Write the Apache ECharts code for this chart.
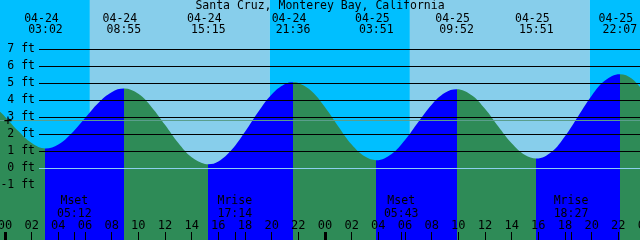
<!DOCTYPE html>
<html><head><meta charset="utf-8">
<script src="https://cdn.jsdelivr.net/npm/echarts@6/dist/echarts.min.js"></script>
<style>html,body{margin:0;padding:0;background:#fff}#c{width:640px;height:240px}</style>
</head><body><div id="c"></div>
<script>
// ---------- data ----------
const chartTitle = 'Santa Cruz, Monterey Bay, California';
const tideTimes = ['04-24 03:02','04-24 08:55','04-24 15:15','04-24 21:36','04-25 03:51','04-25 09:52','04-25 15:51','04-25 22:07'];
const tideHeights = [1.18, 4.70, 0.25, 5.08, 0.49, 4.66, 0.59, 5.55];
const curveHours = [-0.5,0,1,2,4,5,6,7,8,10,11,12,13,14,15,16,17,18,19,20,21,22,23,24,25,26,27,29,30,31,32,33,35,36,37,38,39,41,42,43,44,45,47,48];
const curveHeights = [3.42,3.05,2.2,1.5,1.41,2.07,2.97,3.86,4.49,4.39,3.61,2.57,1.50,0.66,0.27,0.41,1.10,2.16,3.34,4.36,4.97,5.03,4.54,3.60,2.47,1.41,0.70,0.86,1.67,2.73,3.75,4.45,4.31,3.51,2.47,1.48,0.79,0.99,1.90,3.09,4.28,5.17,5.29,4.41];
const moonNames = ['Mset','Mrise','Mset','Mrise'];
const moonTimes = ['04-24 05:12','04-24 17:14','04-25 05:43','04-25 18:27'];
const sunriseTimes = ['04-24 06:22','04-25 06:22'];
const sunsetTimes = ['04-24 19:52','04-25 19:52'];
const levelLabels = [-1,0,1,2,3,4,5,6,7];
const gridLevels = [1,2,3,4,5,6,7];
const datumLevel = [0];
const meanLevel = [2.82];
const midnights = [0, 24, 48];

// ---------- helpers ----------
function toHours(s){
  const [md, hm] = s.split(' ');
  const day = parseInt(md.split('-')[1], 10) - 24;
  const [H, M] = hm.split(':').map(Number);
  return day * 24 + H + M / 60;
}
const tideH = tideTimes.map(toHours);
const moonH = moonTimes.map(toHours);
const sunriseH = sunriseTimes.map(toHours);
const sunsetH = sunsetTimes.map(toHours);

const pts = [];
curveHours.forEach((h, i) => pts.push([h, curveHeights[i]]));
tideH.forEach((h, i) => pts.push([h, tideHeights[i]]));
pts.sort((a, b) => a[0] - b[0]);

const X0 = -2, X1 = 48;
const gridStart = 2.55; // hour where the level lines start (right of labels)
const FONT = 'DejaVu Sans Mono';
const NIGHT = '#00BFFF', DAY = '#87CEEB', RISE = '#0000FF', FALL = '#2E8B57';

// day / night background
const sky = [];
let prev = X0;
for (let i = 0; i < sunriseH.length; i++) {
  sky.push([{xAxis: prev, itemStyle: {color: NIGHT, opacity: 1}}, {xAxis: sunriseH[i]}]);
  sky.push([{xAxis: sunriseH[i], itemStyle: {color: DAY, opacity: 1}}, {xAxis: sunsetH[i]}]);
  prev = sunsetH[i];
}
sky.push([{xAxis: prev, itemStyle: {color: NIGHT, opacity: 1}}, {xAxis: X1}]);

// rising / falling pieces
const pieces = [];
let lo = -Infinity;
tideH.forEach((h, i) => {
  const isLow = (i + 1 < tideHeights.length) ? tideHeights[i] < tideHeights[i + 1] : tideHeights[i] < tideHeights[i - 1];
  pieces.push({gte: lo, lt: h, color: isLow ? FALL : RISE});
  lo = h;
});
pieces.push({gte: lo, lt: Infinity, color: tideHeights[tideHeights.length - 1] > tideHeights[tideHeights.length - 2] ? FALL : RISE});

const pad = n => String(n).padStart(2, '0');
function findIdx(arr, v){ for (let i = 0; i < arr.length; i++) if (Math.abs(arr[i] - v) < 1e-6) return i; return -1; }

const chart = echarts.init(document.getElementById('c'), null, {renderer: 'canvas'});
const baseX = {
  type: 'value', min: X0, max: X1, gridIndex: 0, z: 10,
  axisLine: {show: false, onZero: false}, splitLine: {show: false}
};
chart.setOption({
  animation: false,
  backgroundColor: '#fff',
  title: {
    text: chartTitle, left: 'center', top: 0, padding: 0, z: 10,
    textStyle: {fontFamily: FONT, fontSize: 11.5, fontWeight: 'normal', color: '#000', lineHeight: 12}
  },
  grid: {left: -21.667, right: -5, top: -1.5, bottom: -13.5, containLabel: false, outerBoundsMode: 'none'},
  xAxis: [
    Object.assign({}, baseX, {
      position: 'bottom', offset: -13.5, interval: 2,
      axisTick: {show: true, inside: true, length: 8, lineStyle: {color: '#000', width: 1}},
      axisLabel: {show: true, inside: true, margin: 8, fontFamily: FONT, fontSize: 12, color: '#000',
        formatter: v => pad(((Math.round(v) % 24) + 24) % 24)}
    }),
    Object.assign({}, baseX, {
      position: 'bottom', offset: -13.5,
      axisTick: {show: true, inside: true, length: 8, customValues: midnights, lineStyle: {color: '#000', width: 3}},
      axisLabel: {show: false}
    }),
    Object.assign({}, baseX, {
      position: 'bottom', offset: -13.5,
      axisTick: {show: true, inside: true, length: 8, customValues: moonH, lineStyle: {color: '#000', width: 1}},
      axisLabel: {show: true, inside: true, margin: 20, customValues: moonH, fontFamily: FONT, fontSize: 11.5, color: '#000',
        lineHeight: 12.5, align: 'center',
        formatter: v => { const i = findIdx(moonH, v); return i < 0 ? '' : moonNames[i] + '\n' + moonTimes[i].split(' ')[1]; }}
    }),
    Object.assign({}, baseX, {
      position: 'top',
      axisTick: {show: false},
      axisLabel: {show: true, inside: true, margin: 14.5, customValues: tideH, fontFamily: FONT, fontSize: 11.5, color: '#000',
        align: 'center',
        formatter: v => { const i = findIdx(tideH, v); if (i < 0) return ''; const p = tideTimes[i].split(' '); return '{d|' + p[0] + '}\n{t|' + p[1] + '}'; },
        rich: {
          d: {fontFamily: FONT, fontSize: 11.5, color: '#000', lineHeight: 11.5, padding: [0, 8, 0, 0]},
          t: {fontFamily: FONT, fontSize: 11.5, color: '#000', lineHeight: 11.5}
        }}
    })
  ],
  yAxis: {
    type: 'value', min: -5, max: 10, interval: 1, z: 10,
    axisLine: {show: false, onZero: false}, axisTick: {show: false}, splitLine: {show: false},
    axisLabel: {inside: true, align: 'right', margin: 56.7, fontFamily: FONT, fontSize: 11.5, color: '#000',
      formatter: v => levelLabels.indexOf(v) >= 0 ? v + ' ft' : ''}
  },
  visualMap: {show: false, type: 'piecewise', dimension: 0, seriesIndex: 2, pieces: pieces},
  series: [
    {
      type: 'line', z: 0, data: [[X0, -5]], showSymbol: false, silent: true,
      lineStyle: {opacity: 0},
      markArea: {silent: true, data: sky}
    },
    {
      type: 'line', z: 1, data: [[X0, -5]], showSymbol: false, silent: true,
      lineStyle: {opacity: 0},
      markLine: {silent: true, symbol: ['none', 'none'], label: {show: false},
        lineStyle: {color: '#000', width: 1, type: 'solid'},
        data: gridLevels.map(v => [{coord: [gridStart, v]}, {coord: [X1, v]}])}
    },
    {
      type: 'line', z: 2, data: pts, smooth: 0.4, showSymbol: false, silent: true,
      lineStyle: {width: 0, opacity: 0},
      areaStyle: {opacity: 1, origin: 'start'}
    },
    {
      type: 'line', z: 3, data: [[X0, -5]], showSymbol: false, silent: true,
      lineStyle: {opacity: 0},
      markLine: {silent: true, symbol: ['none', 'none'], label: {show: false},
        data: [
          [{coord: [gridStart, datumLevel[0]], lineStyle: {color: '#8ccff0', width: 1, type: 'solid'}}, {coord: [X1, datumLevel[0]]}],
          [{coord: [-0.5, meanLevel[0]], lineStyle: {color: '#5a9e8c', width: 1, type: 'solid'}}, {coord: [X1, meanLevel[0]]}]
        ]},
      markPoint: {silent: true, symbol: 'circle', symbolSize: 1, itemStyle: {color: 'rgba(0,0,0,0)'},
        data: [{coord: [0.22, meanLevel[0] - 0.06], label: {show: true, formatter: '+', fontFamily: FONT, fontSize: 14, color: '#000', position: 'inside'}}]}
    }
  ]
});
</script>
</body></html>
